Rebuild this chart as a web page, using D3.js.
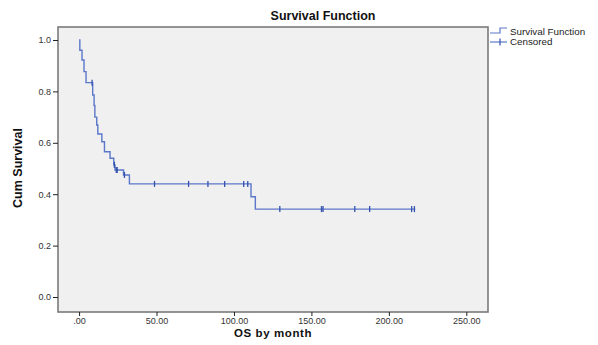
<!DOCTYPE html>
<html lang="en">
<head>
<meta charset="UTF-8">
<title>Survival Function</title>
<script src="https://d3js.org/d3.v7.min.js"></script>
<style>
  body { margin: 0; background: #fff; }
  svg { display: block; }
</style>
</head>
<body>
<svg id="chart" width="598" height="345"></svg>
<script>
// event times (months) and survival after each step
const eventTimes = [0, 0.5, 1.9, 3.2, 4.5, 8.8, 9.7, 10.2, 11.4, 12.1, 14.7, 16.4, 20.0, 22.4, 23.2, 28.7, 32.5, 111.0, 113.8];
const survival   = [1.0, 0.96, 0.922, 0.877, 0.834, 0.786, 0.745, 0.70, 0.669, 0.634, 0.604, 0.565, 0.54, 0.514, 0.494, 0.475, 0.44, 0.39, 0.342];
const lastTime = 217;

// censored observations
const censoredTimes = [8.4, 22.8, 24.0, 24.6, 29.3, 48.7, 70.7, 83.2, 94.0, 106.3, 108.9, 129.6, 156.5, 157.5, 178.0, 187.6, 214.7, 216.5];

const xTicks = [0, 50, 100, 150, 200, 250];
const xTickLabels = [".00", "50.00", "100.00", "150.00", "200.00", "250.00"];
const yTicks = [0, 0.2, 0.4, 0.6, 0.8, 1.0];
const yTickLabels = ["0.0", "0.2", "0.4", "0.6", "0.8", "1.0"];
const legendLabels = ["Survival Function", "Censored"];

const svg = d3.select("#chart");
const frame = { left: 58, right: 488, top: 27, bottom: 312 };
const lineColor = "#5b77c9";
const markColor = "#3352b0";

// scales
const x = d3.scaleLinear().domain([-13.6, 264]).range([frame.left, frame.right]);
const y = d3.scaleLinear().domain([0, 1]).range([297, 40]);

// plot background + frame
svg.append("rect")
  .attr("x", frame.left).attr("y", frame.top)
  .attr("width", frame.right - frame.left).attr("height", frame.bottom - frame.top)
  .attr("fill", "#f0f0f0")
  .attr("stroke", "#7a7a7a")
  .attr("stroke-width", 1.6);

// y axis
const yAxis = svg.append("g")
  .attr("transform", `translate(${frame.left},0)`)
  .call(d3.axisLeft(y).tickValues(yTicks).tickSize(5).tickPadding(2)
    .tickFormat((d, i) => yTickLabels[i]));
yAxis.select(".domain").remove();
yAxis.selectAll("line").attr("stroke", "#222");
yAxis.selectAll("text").attr("font-family", "Liberation Sans, Arial, sans-serif")
  .attr("font-size", 9).attr("fill", "#333");

// x axis
const xAxis = svg.append("g")
  .attr("transform", `translate(0,${frame.bottom})`)
  .call(d3.axisBottom(x).tickValues(xTicks).tickSize(4).tickPadding(2)
    .tickFormat((d, i) => xTickLabels[i]));
xAxis.select(".domain").remove();
xAxis.selectAll("line").attr("stroke", "#222");
xAxis.selectAll("text").attr("font-family", "Liberation Sans, Arial, sans-serif")
  .attr("font-size", 9).attr("fill", "#333");

// step line of survival
const stepData = eventTimes.map((t, i) => ({ t: t, s: survival[i] }));
stepData.push({ t: lastTime, s: survival[survival.length - 1] });

const line = d3.line()
  .x(d => x(d.t))
  .y(d => y(d.s))
  .curve(d3.curveStepAfter);

svg.append("path")
  .datum(stepData)
  .attr("fill", "none")
  .attr("stroke", lineColor)
  .attr("stroke-width", 1.4)
  .attr("d", line);

// survival value at time t (right-continuous)
function survAt(t) {
  let s = 1;
  eventTimes.forEach((et, i) => { if (et <= t) s = survival[i]; });
  return s;
}

// censor marks
svg.selectAll("line.censor")
  .data(censoredTimes)
  .enter()
  .append("line")
  .attr("class", "censor")
  .attr("x1", d => x(d)).attr("x2", d => x(d))
  .attr("y1", d => y(survAt(d)) - 3)
  .attr("y2", d => y(survAt(d)) + 3)
  .attr("stroke", markColor)
  .attr("stroke-width", 1.3);

// title
svg.append("text")
  .attr("x", 323).attr("y", 20)
  .attr("text-anchor", "middle")
  .attr("font-family", "Liberation Sans, Arial, sans-serif")
  .attr("font-weight", "bold")
  .attr("font-size", 12.5)
  .attr("fill", "#111")
  .text("Survival Function");

// axis titles
svg.append("text")
  .attr("x", 273).attr("y", 337)
  .attr("text-anchor", "middle")
  .attr("font-family", "Liberation Sans, Arial, sans-serif")
  .attr("font-weight", "bold")
  .attr("font-size", 11.5)
  .attr("letter-spacing", 0.6)
  .attr("fill", "#111")
  .text("OS by month");

svg.append("text")
  .attr("transform", "rotate(-90)")
  .attr("x", -168).attr("y", 22)
  .attr("text-anchor", "middle")
  .attr("font-family", "Liberation Sans Narrow, Arial Narrow, sans-serif")
  .attr("font-weight", "bold")
  .attr("font-size", 13.5)
  .attr("textLength", 80)
  .attr("lengthAdjust", "spacingAndGlyphs")
  .attr("fill", "#111")
  .text("Cum Survival");

// legend
const legend = svg.append("g").attr("transform", "translate(490,32)");
legend.append("path")
  .attr("d", "M0,1 H10 V-4 H17")
  .attr("fill", "none")
  .attr("stroke", lineColor)
  .attr("stroke-width", 1.2);
legend.append("line")
  .attr("x1", 0).attr("x2", 17).attr("y1", 10).attr("y2", 10)
  .attr("stroke", lineColor).attr("stroke-width", 1.2);
legend.append("line")
  .attr("x1", 10).attr("x2", 10).attr("y1", 6.5).attr("y2", 13.5)
  .attr("stroke", markColor).attr("stroke-width", 1.2);
legend.selectAll("text.leg")
  .data(legendLabels)
  .enter()
  .append("text")
  .attr("class", "leg")
  .attr("x", 20)
  .attr("y", (d, i) => i * 10 + 2.5)
  .attr("font-family", "Liberation Sans, Arial, sans-serif")
  .attr("font-size", 9.8)
  .attr("fill", "#222")
  .text(d => d);
</script>
</body>
</html>
